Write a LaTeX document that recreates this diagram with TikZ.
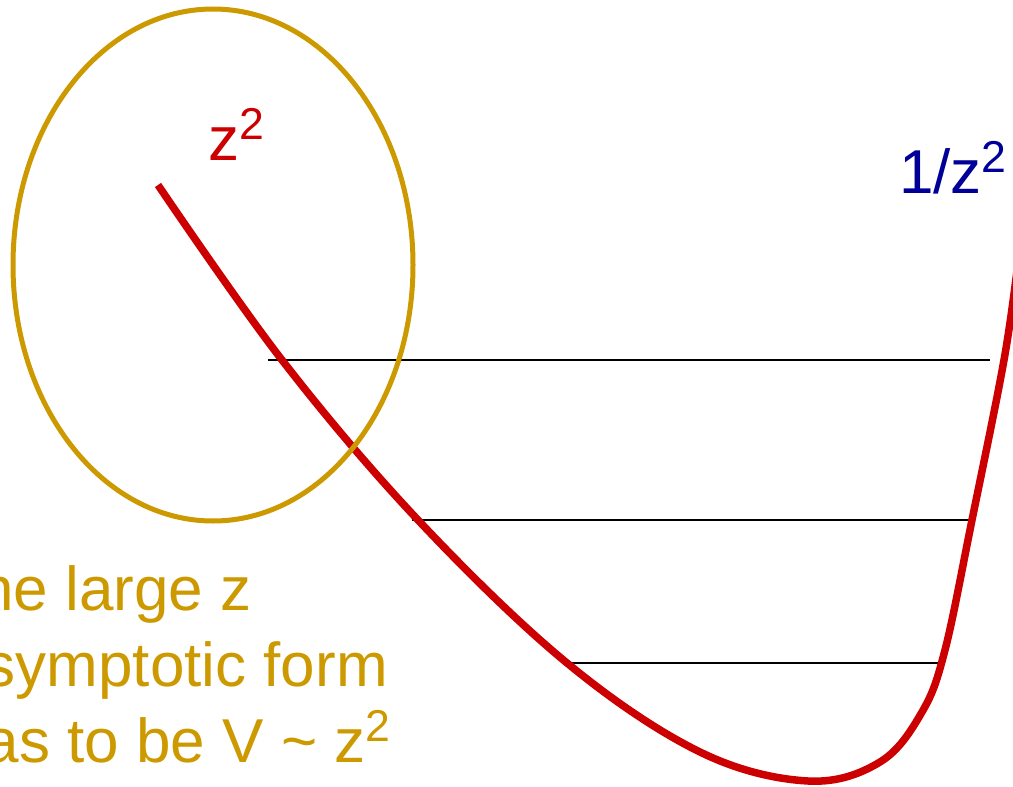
\documentclass[tikz,border=0pt]{standalone}
\usepackage{fontspec}
\setmainfont{Liberation Sans}
\definecolor{wellred}{RGB}{204,0,0}
\definecolor{asymgold}{RGB}{204,153,0}
\definecolor{invblue}{RGB}{0,0,153}
\newcommand{\sqtwo}{\raisebox{.33em}{\scalebox{.72}{2}}}
\tikzset{
  potential/.style={line width=7.5pt, wellred},
  asym/.style={line width=5pt, asymgold},
  level/.style={line width=1.6pt, black},
  label/.style={inner sep=0pt, font=\fontsize{62}{64}\selectfont},
  note/.style={inner sep=0pt, asymgold, font=\fontsize{62}{76}\selectfont}
}
\begin{document}
\begin{tikzpicture}[x=1pt, y=-1pt]
    \useasboundingbox (0,0) rectangle (1013,787);

    \coordinate (l1a) at (268,360);
    \coordinate (l1b) at (990,360);
    \coordinate (l2a) at (412,520);
    \coordinate (l2b) at (975,520);
    \coordinate (l3a) at (572,663);
    \coordinate (l3b) at (943,663);

    \draw[level] (l1a) -- (l1b);
    \draw[level] (l2a) -- (l2b);
    \draw[level] (l3a) -- (l3b);

    \draw[potential] plot[smooth, tension=0.6] coordinates {(158,185) (282,360) (418,520) (567,663) (700,752) (808,781) (880,762) (922,712) (945,650) (972,520) (1004,360) (1018,262)};

    \draw[asym] (213,265) ellipse [x radius=200, y radius=256];

    \node[label, wellred, anchor=base west] (zsq) at (208,160) {z\sqtwo};
    \node[label, invblue, anchor=base west] (invz) at (899,193) {1/z\sqtwo};

    \node[note, anchor=base west] (line1) at (-38,610) {the large z};
    \node[note, anchor=base west] (line2) at (-50,686) {asymptotic form};
    \node[note, anchor=base west] (line3) at (-50,762) {has to be V \textasciitilde{} z\sqtwo};
\end{tikzpicture}
\end{document}
